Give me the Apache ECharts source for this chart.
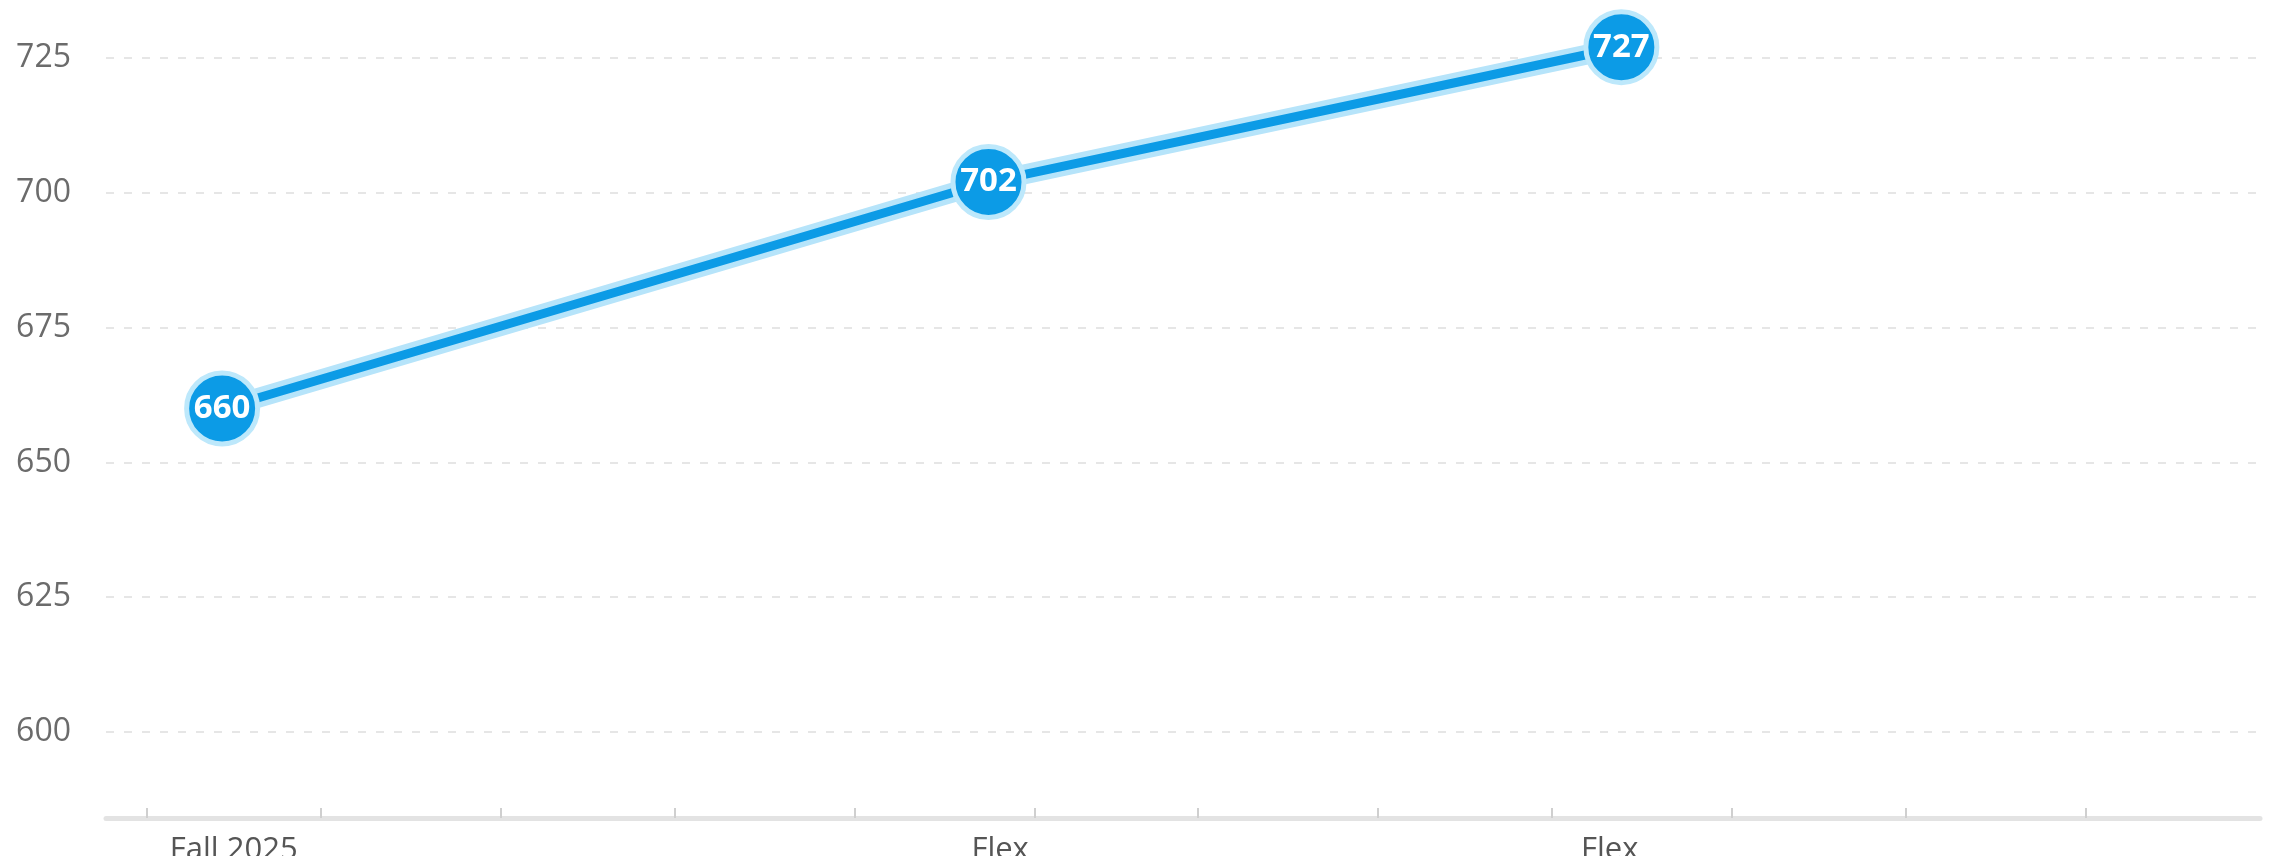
<!DOCTYPE html>
<html>
<head>
<meta charset="utf-8">
<script src="https://cdn.jsdelivr.net/npm/echarts@6/dist/echarts.min.js"></script>
<style>
  html, body { margin: 0; padding: 0; background: #ffffff; }
  #chart { width: 2277px; height: 856px; }
</style>
</head>
<body>
<div id="chart"></div>
<script>
// ---- data ----
const pointDates = ['2025-09-14', '2026-01-24', '2026-05-13'];
const scores = [660, 702, 727];
const labelDates = ['2025-09-16', '2026-01-26', '2026-05-11'];
const labelNames = ['Fall 2025', 'Flex', 'Flex'];
const monthTicks = ['2025-09-01', '2025-10-01', '2025-11-01', '2025-12-01', '2026-01-01', '2026-02-01',
                    '2026-03-01', '2026-04-01', '2026-05-01', '2026-06-01', '2026-07-01', '2026-08-01'];
const yTickValues = [600, 625, 650, 675, 700, 725];
const xStartDate = '2025-08-25', xEndDate = '2026-08-31';
const yMin = 584.05, yMax = 735.76;

// ---- helpers: dates -> day numbers (UTC, no DST drift) ----
const DAY = 86400000;
function dayNum(s) { const p = s.split('-').map(Number); return Math.round(Date.UTC(p[0], p[1] - 1, p[2]) / DAY); }
const labelMap = {};
labelDates.forEach((d, i) => { labelMap[dayNum(d)] = labelNames[i]; });
const seriesData = pointDates.map((d, i) => [dayNum(d), scores[i]]);

const chart = echarts.init(document.getElementById('chart'), null, { renderer: 'canvas' });
const FONT = '"Open Sans", "Noto Sans", sans-serif';

chart.setOption({
  animation: false,
  backgroundColor: '#ffffff',
  grid: { left: 106, right: 17, top: 0, bottom: 38, containLabel: false, outerBoundsMode: 'none' },
  xAxis: {
    type: 'value',
    min: dayNum(xStartDate),
    max: dayNum(xEndDate),
    axisLine: { show: true, onZero: false, lineStyle: { color: '#e3e3e3', width: 5 } },
    axisTick: {
      show: true, inside: true, length: 10,
      customValues: monthTicks.map(dayNum),
      lineStyle: { color: '#cfcfcf', width: 2 }
    },
    axisLabel: {
      show: true,
      customValues: labelDates.map(dayNum),
      formatter: function (v) { return labelMap[Math.round(v)] || ''; },
      color: '#555555', fontSize: 31, fontFamily: FONT, margin: 17
    },
    splitLine: { show: false }
  },
  yAxis: {
    type: 'value',
    min: yMin, max: yMax,
    axisLine: { show: false },
    axisTick: { show: false, customValues: yTickValues },
    axisLabel: {
      customValues: yTickValues,
      color: '#6b6b6b', fontSize: 32, fontFamily: FONT, margin: 35
    },
    splitLine: { show: true, lineStyle: { color: '#e6e6e6', width: 2, type: [8, 10] } }
  },
  series: [
    {
      name: 'halo',
      type: 'line',
      data: seriesData,
      symbol: 'none',
      silent: true,
      lineStyle: { color: '#b6e4fa', width: 20 },
      z: 1
    },
    {
      name: 'score',
      type: 'line',
      data: seriesData,
      symbol: 'circle',
      symbolSize: 71,
      itemStyle: { color: '#0c9be6', borderColor: '#bde8fb', borderWidth: 5 },
      lineStyle: { color: '#0c9be6', width: 9 },
      label: {
        show: true, position: 'inside',
        color: '#ffffff', fontSize: 33, fontWeight: 'bold', fontFamily: FONT
      },
      z: 2
    }
  ]
});
</script>
</body>
</html>
